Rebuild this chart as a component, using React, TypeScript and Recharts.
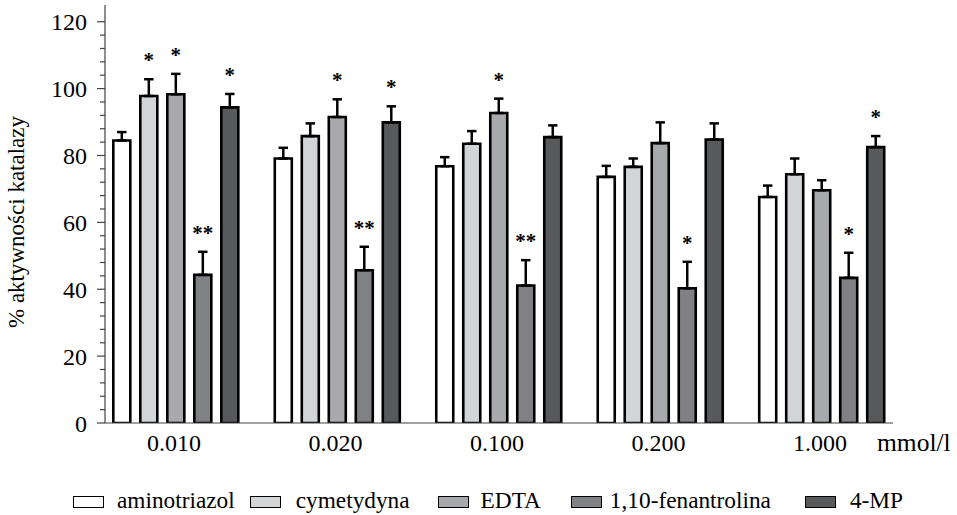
import React from "react"
import { BarChart, Bar, XAxis, YAxis, ErrorBar, LabelList, Label } from "recharts"

const FONT = "Liberation Serif, Times New Roman, Tinos, DejaVu Serif, serif"

// Stężenia (mmol/l)
const CONCENTRATIONS = ["0.010", "0.020", "0.100", "0.200", "1.000"]

const SERIES_NAMES = ["aminotriazol", "cymetydyna", "EDTA", "1,10-fenantrolina", "4-MP"]
const SERIES_FILLS = ["#ffffff", "#d3d4d6", "#a8a9ac", "#808185", "#58595b"]

// % aktywności katalazy (mean) + SD
const aminotriazol = [84.5, 79.1, 76.8, 73.6, 67.6]
const aminotriazolSd = [2.5, 3.2, 2.7, 3.3, 3.4]
const cymetydyna = [97.8, 85.8, 83.5, 76.6, 74.4]
const cymetydynaSd = [5.0, 3.8, 3.8, 2.5, 4.7]
const edta = [98.3, 91.5, 92.7, 83.7, 69.6]
const edtaSd = [6.1, 5.3, 4.3, 6.2, 3.0]
const fenantrolina = [44.3, 45.7, 41.1, 40.3, 43.4]
const fenantrolinaSd = [6.9, 7.0, 7.6, 7.9, 7.5]
const mp4 = [94.4, 89.9, 85.5, 84.8, 82.5]
const mp4Sd = [4.0, 4.8, 3.5, 4.8, 3.3]

// istotność statystyczna
const aminotriazolSig = ["", "", "", "", ""]
const cymetydynaSig = ["*", "", "", "", ""]
const edtaSig = ["*", "*", "*", "", ""]
const fenantrolinaSig = ["**", "**", "**", "*", "*"]
const mp4Sig = ["*", "*", "", "", "*"]

const Y_TICKS = [0, 4, 8, 12, 16, 20, 24, 28, 32, 36, 40, 44, 48, 52, 56, 60, 64, 68, 72, 76, 80, 84, 88, 92, 96, 100, 104, 108, 112, 116, 120]

const VALUES = [aminotriazol, cymetydyna, edta, fenantrolina, mp4]
const SDS = [aminotriazolSd, cymetydynaSd, edtaSd, fenantrolinaSd, mp4Sd]
const SIGS = [aminotriazolSig, cymetydynaSig, edtaSig, fenantrolinaSig, mp4Sig]

// legend spacing (box -> text, before item) as in the figure
const LEGEND_TEXT_GAP = [13, 15, 12, 8, 14]
const LEGEND_ITEM_GAP = [0, 15, 28, 30, 34]

const data = CONCENTRATIONS.map((c, i) => {
  const row: Record<string, any> = { x: i, name: c }
  VALUES.forEach((vals, s) => {
    row[`s${s}`] = vals[i]
    row[`e${s}`] = [0, SDS[s][i]]
  })
  return row
})

const TICK_SIZE = 8
const TICK_MARGIN = 10
const AXIS_COLOR = "#444"

function YTick(props: any) {
  const { x, y, payload } = props
  const axisX = x + TICK_SIZE + TICK_MARGIN
  const major = payload.value % 20 === 0
  return (
    <g>
      <line x1={axisX - (major ? 8 : 5)} x2={axisX} y1={y} y2={y} stroke={AXIS_COLOR} strokeWidth={1.2} />
      {major && (
        <text x={x} y={y + 8.5} textAnchor="end" fontSize={24} fontFamily={FONT} fill="#000">
          {payload.value}
        </text>
      )}
    </g>
  )
}

// gwiazdki nad słupkiem błędu
const starLabel = (marks: string[], sds: number[]) => (props: any) => {
  const { x, y, width, height, value, index } = props
  const mark = marks[index]
  if (!mark || !value) return null
  const pxPerUnit = height / value
  const errTop = y - sds[index] * pxPerUnit
  return (
    <text x={x + width / 2} y={errTop - 12} textAnchor="middle" fontSize={21} fontWeight="bold" fontFamily={FONT} fill="#000">
      {mark}
    </text>
  )
}

function Legend() {
  return (
    <div
      style={{
        position: "absolute",
        top: 487,
        left: 73,
        display: "flex",
        alignItems: "baseline",
        fontFamily: FONT,
        fontSize: 23.3,
        color: "#000",
        whiteSpace: "nowrap",
      }}
    >
      {SERIES_NAMES.map((name, i) => (
        <div key={name} style={{ display: "flex", alignItems: "baseline", marginLeft: LEGEND_ITEM_GAP[i] }}>
          <span
            style={{
              display: "inline-block",
              width: 29,
              height: 10,
              background: SERIES_FILLS[i],
              border: "1.5px solid #000",
              marginRight: LEGEND_TEXT_GAP[i],
            }}
          />
          <span>{name}</span>
        </div>
      ))}
    </div>
  )
}

export default function App() {
  return (
    <div style={{ position: "absolute", left: 0, top: 0, width: 957, height: 515, background: "#fff", fontFamily: FONT }}>
      <BarChart
        width={957}
        height={515}
        data={data}
        margin={{ top: 5, right: 64, bottom: 0, left: 0 }}
        barSize={17}
        barGap={10}
        style={{ fontFamily: FONT }}
      >
        <XAxis
          type="number"
          dataKey="x"
          domain={[-0.44, 4.44]}
          allowDataOverflow
          ticks={[0, 1, 2, 3, 4]}
          interval={0}
          tickFormatter={(v: number) => CONCENTRATIONS[v]}
          height={92}
          tickLine={false}
          tickSize={0}
          tickMargin={11}
          tick={{ fill: "#000", fontSize: 24, fontFamily: FONT, dx: -2 }}
          axisLine={{ stroke: AXIS_COLOR, strokeWidth: 1.2 }}
        >
          <Label
            content={(p: any) => {
              const vb = p.viewBox
              return (
                <text x={vb.x + vb.width - 16} y={vb.y + 28} fontSize={25.5} fontFamily={FONT} fill="#000">
                  mmol/l
                </text>
              )
            }}
          />
        </XAxis>
        <YAxis
          width={105}
          domain={[0, 125]}
          allowDataOverflow
          ticks={Y_TICKS}
          interval={0}
          tickLine={false}
          tickSize={TICK_SIZE}
          tickMargin={TICK_MARGIN}
          tick={YTick}
          axisLine={{ stroke: AXIS_COLOR, strokeWidth: 1.2 }}
        >
          <Label
            content={(p: any) => {
              const vb = p.viewBox
              const cy = vb.y + vb.height / 2 + 8
              return (
                <text
                  transform={`translate(24, ${cy}) rotate(-90)`}
                  textAnchor="middle"
                  fontSize={23}
                  fontFamily={FONT}
                  fill="#000"
                >
                  % aktywności katalazy
                </text>
              )
            }}
          />
        </YAxis>
        {SERIES_NAMES.map((name, s) => (
          <Bar
            key={name}
            dataKey={`s${s}`}
            name={name}
            fill={SERIES_FILLS[s]}
            stroke="#000"
            strokeWidth={2.6}
            isAnimationActive={false}
          >
            <ErrorBar dataKey={`e${s}`} direction="y" width={4.7} strokeWidth={2.5} stroke="#000" isAnimationActive={false} />
            <LabelList dataKey={`s${s}`} content={starLabel(SIGS[s], SDS[s])} />
          </Bar>
        ))}
      </BarChart>
      <Legend />
    </div>
  )
}
